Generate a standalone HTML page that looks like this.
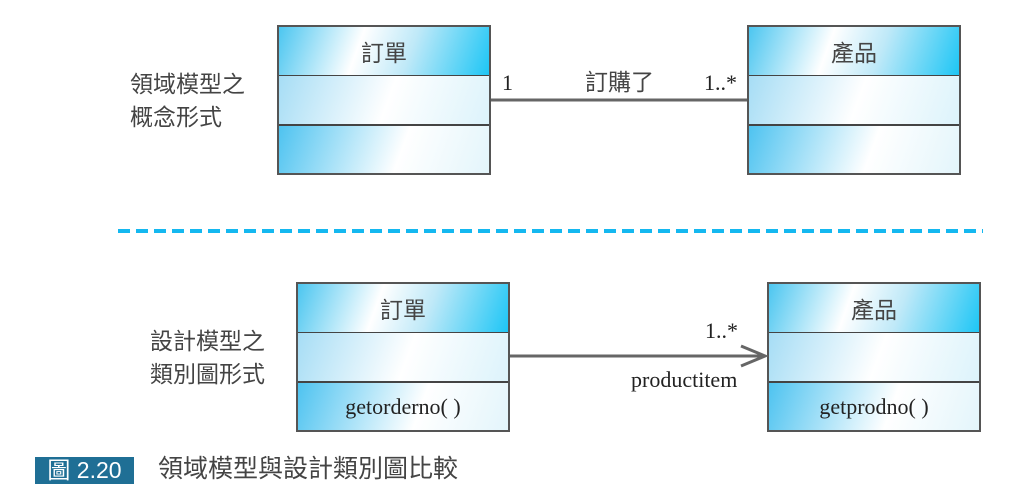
<!DOCTYPE html>
<html><head><meta charset="utf-8"><style>
body{margin:0;width:1030px;height:498px;background:#fff;position:relative;overflow:hidden;font-family:"Liberation Sans","Noto Sans CJK TC",sans-serif;color:#333}
.box{position:absolute;width:214px;height:150px;border:2px solid #555;box-sizing:border-box}
.c{position:absolute;left:0;right:0;height:50px;box-sizing:border-box;display:flex;align-items:center;justify-content:center;font-size:23px;color:#444}
.h{top:0;background:linear-gradient(110deg,#4cc6f0 0%,#fff 38%,#bfe9f8 62%,#1ec6f5 100%);border-bottom:2px solid #444}
.m{top:49px;background:linear-gradient(110deg,#a6ddf5 0%,#fff 52%,#dcf3fb 100%);border-bottom:2px solid #444}
.b{top:99px;height:47px;background:linear-gradient(110deg,#4ec3f0 0%,#fff 58%,#e3f5fb 100%);font-family:"Liberation Serif",serif;font-size:22px;color:#222}
.t{position:absolute;font-size:23px;color:#444;line-height:33px}
.s{position:absolute;font-family:"Liberation Serif",serif;font-size:22px;color:#222}
</style></head><body>
<div class="t" style="left:130px;top:68px">領域模型之<br>概念形式</div>
<div class="t" style="left:150px;top:325px">設計模型之<br>類別圖形式</div>

<div class="box" style="left:277px;top:25px"><div class="c h">訂單</div><div class="c m"></div><div class="c b"></div></div>
<div class="box" style="left:747px;top:25px"><div class="c h">產品</div><div class="c m"></div><div class="c b"></div></div>
<div class="box" style="left:296px;top:282px"><div class="c h">訂單</div><div class="c m"></div><div class="c b">getorderno( )</div></div>
<div class="box" style="left:767px;top:282px"><div class="c h">產品</div><div class="c m"></div><div class="c b">getprodno( )</div></div>

<svg style="position:absolute;left:0;top:0" width="1030" height="498">
<line x1="491" y1="100" x2="747" y2="100" stroke="#666" stroke-width="3"/>
<line x1="118" y1="231" x2="983" y2="231" stroke="#14b8f0" stroke-width="4" stroke-dasharray="12,6"/>
<line x1="510" y1="356" x2="765" y2="356" stroke="#666" stroke-width="3"/>
<polyline points="741,346 765,356 741,366" fill="none" stroke="#666" stroke-width="3"/>
</svg>
<div class="s" style="left:502px;top:70px">1</div>
<div class="t" style="left:585px;top:66px">訂購了</div>
<div class="s" style="left:704px;top:70px">1..*</div>
<div class="s" style="left:705px;top:318px">1..*</div>
<div class="s" style="left:631px;top:367px">productitem</div>

<div style="position:absolute;left:35px;top:457px;width:99px;height:27px;background:#1f6f95;color:#fff;font-size:23px;line-height:27px;text-align:center">圖 2.20</div>
<div class="t" style="left:158px;top:453px;font-size:25px">領域模型與設計類別圖比較</div>
</body></html>
